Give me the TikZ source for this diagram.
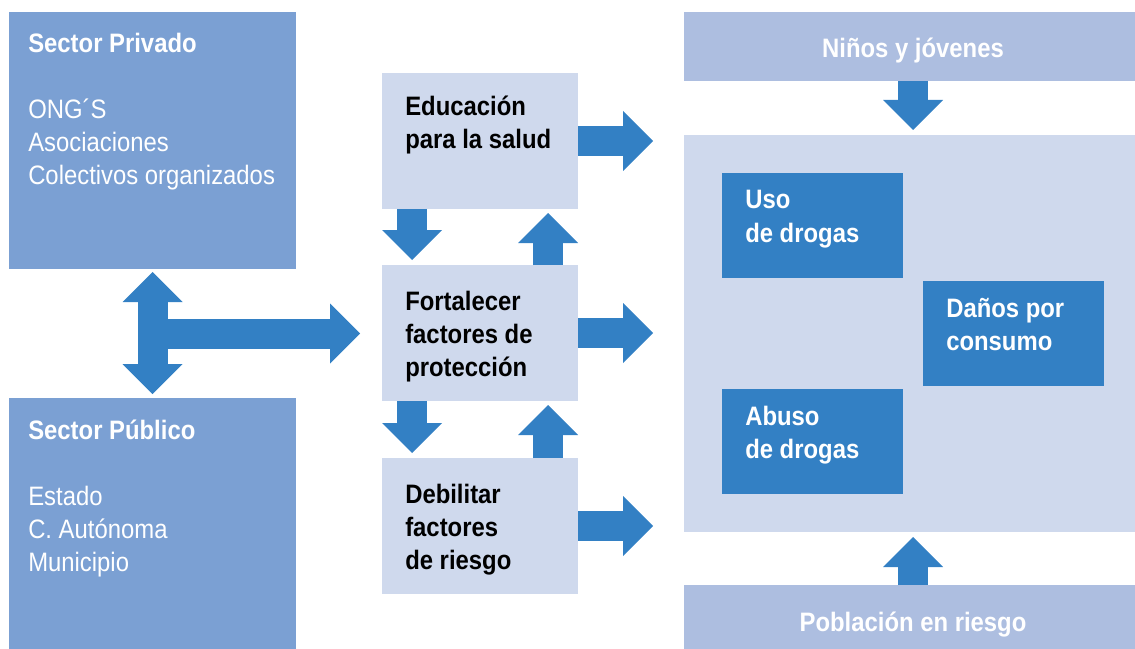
\documentclass[tikz,border=0pt]{standalone}
\usepackage{fontspec}
\setmainfont[FakeStretch=0.895]{Liberation Sans}
\usetikzlibrary{arrows.meta,calc}
\definecolor{sectorblue}{HTML}{7BA0D3}
\definecolor{paleblue}{HTML}{CFD9ED}
\definecolor{bandblue}{HTML}{ADBEE0}
\definecolor{darkblue}{HTML}{3380C4}
\tikzset{
  box/.style={anchor=north west,inner sep=0pt,outer sep=0pt,draw=none},
  txt/.style={anchor=base west,inner sep=0pt,align=left,font=\fontsize{20}{24.75}\selectfont},
  blocktip/.tip={Triangle[width=45pt,length=22.5pt,line width=0pt]},
  blockarrow/.style={draw=darkblue,line width=22.5pt,-blocktip},
  blockboth/.style={draw=darkblue,line width=22.5pt,blocktip-blocktip}
}
\begin{document}
\begin{tikzpicture}[x=0.75pt,y=0.75pt,yscale=-1,xscale=1]
\useasboundingbox (0,0) rectangle (1135,649);
\node [box,fill=sectorblue,minimum width=215.25pt,minimum height=192.75pt] (priv) at (9,12) {};
\node [box,fill=sectorblue,minimum width=215.25pt,minimum height=195pt] (pub) at (9,398) {};
\node [box,fill=paleblue,minimum width=147pt,minimum height=102pt] (edu) at (382,73) {};
\node [box,fill=paleblue,minimum width=147pt,minimum height=102pt] (fort) at (382,265) {};
\node [box,fill=paleblue,minimum width=147pt,minimum height=102pt] (deb) at (382,458) {};
\node [box,fill=bandblue,minimum width=343.5pt,minimum height=51.75pt] (ninos) at (684,12) {};
\node [box,fill=paleblue,minimum width=343.5pt,minimum height=297.75pt] (big) at (684,135) {};
\node [box,fill=bandblue,minimum width=343.5pt,minimum height=52.5pt] (pob) at (684,585) {};
\node [box,fill=darkblue,minimum width=135.75pt,minimum height=78.75pt] (uso) at (722,173) {};
\node [box,fill=darkblue,minimum width=135.75pt,minimum height=78.75pt] (danos) at (923,281) {};
\node [box,fill=darkblue,minimum width=135.75pt,minimum height=78.75pt] (abuso) at (722,389) {};
\node [txt,text=white] (priv-txt) at (28,185) {\textbf{Sector Privado}\\[24.75pt]ONG´S\\Asociaciones\\Colectivos organizados};
\node [txt,text=white] (pub-txt) at (28,571) {\textbf{Sector Público}\\[24.75pt]Estado\\C. Autónoma\\Municipio};
\node [txt,font=\fontsize{20}{24.75}\selectfont\bfseries] (edu-txt) at (405,149) {Educación\\para la salud};
\node [txt,font=\fontsize{20}{24.75}\selectfont\bfseries] (fort-txt) at (405,376) {Fortalecer\\factores de\\protección};
\node [txt,font=\fontsize{20}{24.75}\selectfont\bfseries] (deb-txt) at (405,569) {Debilitar\\factores\\de riesgo};
\node [txt,text=white,font=\fontsize{20}{24.75}\selectfont\bfseries] (uso-txt) at (745,242) {Uso\\de drogas};
\node [txt,text=white,font=\fontsize{20}{24.75}\selectfont\bfseries] (danos-txt) at (946,350) {Daños por\\consumo};
\node [txt,text=white,font=\fontsize{20}{24.75}\selectfont\bfseries] (abuso-txt) at (745,458) {Abuso\\de drogas};
\node [txt,anchor=base,text=white,font=\fontsize{20}{24.75}\selectfont\bfseries] (ninos-txt) at (913,58) {Niños y jóvenes};
\node [txt,anchor=base,text=white,font=\fontsize{20}{24.75}\selectfont\bfseries] (pob-txt) at (913,631) {Población en riesgo};
\draw [blockboth,shorten <=2.25pt,shorten >=3pt] (priv.south) -- (pub.north);
\coordinate (tee) at ($(priv.south)!0.5!(pub.north)$);
\draw [blockarrow,shorten >=16.5pt] (tee) -- (tee -| fort.west);
\draw [blockarrow,shorten >=3.75pt] ($(edu.south west)+(30,0)$) -- ($(fort.north west)+(30,0)$);
\draw [blockarrow,shorten >=3pt] ($(fort.north east)-(30,0)$) -- ($(edu.south east)-(30,0)$);
\draw [blockarrow,shorten >=3.75pt] ($(fort.south west)+(30,0)$) -- ($(deb.north west)+(30,0)$);
\draw [blockarrow,shorten >=3pt] ($(deb.north east)-(30,0)$) -- ($(fort.south east)-(30,0)$);
\draw [blockarrow,shorten >=23.25pt] (edu.east) -- (edu.east -| big.west);
\draw [blockarrow,shorten >=23.25pt] (fort.east) -- (fort.east -| big.west);
\draw [blockarrow,shorten >=23.25pt] (deb.east) -- (deb.east -| big.west);
\draw [blockarrow,shorten >=3.75pt] (ninos.south) -- (big.north);
\draw [blockarrow,shorten >=3.75pt] (pob.north) -- (big.south);
\end{tikzpicture}
\end{document}
